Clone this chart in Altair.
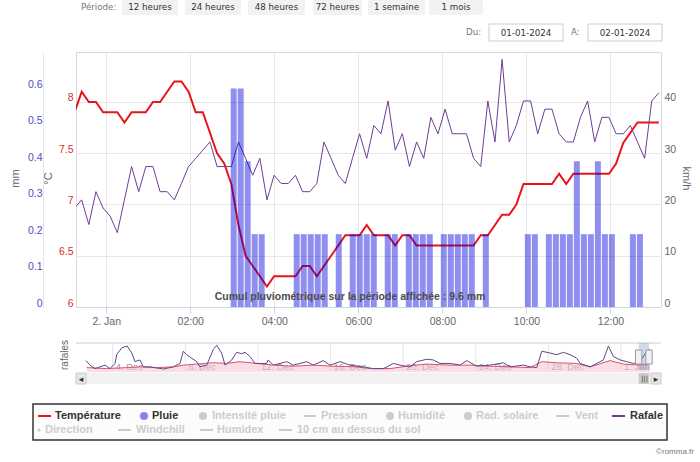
import json
import altair as alt
import pandas as pd

# ---------------- data ----------------
START_MIN = -38          # first 10-minute sample, minutes after 2 Jan 00:00
STEP_MIN = 10

temperature = [
    7.9, 8.1, 8.0, 8.0, 7.9, 7.9, 7.9, 7.8, 7.9, 7.9,
    7.9, 8.0, 8.0, 8.1, 8.2, 8.2, 8.1, 7.9, 7.9, 7.7,
    7.5, 7.4, 7.2, 6.8, 6.5, 6.4, 6.3, 6.2, 6.3, 6.3,
    6.3, 6.3, 6.4, 6.4, 6.3, 6.4, 6.5, 6.6, 6.7, 6.7,
    6.7, 6.8, 6.7, 6.7, 6.7, 6.6, 6.7, 6.7, 6.6, 6.6,
    6.6, 6.6, 6.6, 6.6, 6.6, 6.6, 6.6, 6.7, 6.7, 6.8,
    6.9, 6.9, 7.0, 7.2, 7.2, 7.2, 7.2, 7.2, 7.3, 7.2,
    7.3, 7.3, 7.3, 7.3, 7.3, 7.3, 7.4, 7.6, 7.7, 7.8,
    7.8, 7.8, 7.8,
]
rafale = [
    19.3, 20.9, 16.1, 22.5, 19.3, 17.7, 14.5, 20.9, 27.4, 22.5,
    27.4, 27.4, 22.5, 22.5, 20.9, 24.1, 27.4, 29.0, 30.6, 32.2,
    27.4, 27.4, 27.4, 32.2, 29.0, 25.7, 29.0, 20.9, 25.7, 24.1,
    24.1, 25.7, 22.5, 22.5, 24.1, 32.2, 29.0, 25.7, 24.1, 29.0,
    33.8, 29.0, 35.4, 33.8, 40.2, 30.6, 33.8, 27.4, 32.2, 29.0,
    37.0, 33.8, 38.6, 33.8, 33.8, 33.8, 29.0, 27.4, 40.2, 32.2,
    48.3, 32.2, 35.4, 40.2, 40.2, 33.8, 38.6, 38.6, 33.8, 32.2,
    32.2, 37.0, 40.2, 32.2, 37.0, 37.0, 33.8, 33.8, 35.4, 32.2,
    29.0, 40.2, 41.8,
]
pluie = [
    0, 0, 0, 0, 0, 0, 0, 0, 0, 0,
    0, 0, 0, 0, 0, 0, 0, 0, 0, 0,
    0, 0, 0.6, 0.6, 0.4, 0.2, 0.2, 0, 0, 0,
    0, 0.2, 0.2, 0.2, 0.2, 0.2, 0, 0.2, 0, 0.2,
    0.2, 0.2, 0.2, 0, 0.2, 0.2, 0, 0.2, 0.2, 0.2,
    0.2, 0, 0.2, 0.2, 0.2, 0.2, 0.2, 0, 0.2, 0,
    0, 0, 0, 0, 0.2, 0.2, 0, 0.2, 0.2, 0.2,
    0.2, 0.4, 0.2, 0.2, 0.4, 0.2, 0.2, 0, 0, 0.2,
    0.2, 0, 0,
]
x_tick_minutes = [0, 120, 240, 360, 480, 600, 720]
x_tick_labels = ["2. Jan", "02:00", "04:00", "06:00", "08:00", "10:00", "12:00"]
temp_ticks = [6, 6.5, 7, 7.5, 8]
mm_ticks = [0, 0.1, 0.2, 0.3, 0.4, 0.5, 0.6]
kmh_ticks = [0, 10, 20, 30, 40]
cumul_text = "Cumul pluviométrique sur la période affichée : 9.6 mm"

# navigator (1 month), day = days since 1 Dec 00:00
nav_days = [1.53, 1.75, 2.02, 2.58, 2.85, 3.13, 3.22, 3.5, 3.8, 4.05, 4.23, 4.5, 4.69,
            5.06, 5.79, 6.34, 6.71, 6.89, 7.07, 7.35, 7.63, 7.81, 8.18, 8.54, 8.73,
            9.0, 9.19, 9.56, 9.83, 10.1, 10.29, 10.56, 10.84, 11.48, 11.57, 11.85,
            12.59, 12.95, 13.69, 14.05, 14.6, 14.97, 15.52, 16.07, 16.81, 17.36,
            17.91, 18.46, 18.83, 19.38, 19.75, 20.3, 20.66, 21.03, 21.58, 22.13,
            22.5, 23.05, 23.79, 24.52, 24.89, 25.62, 25.99, 26.36, 26.64, 27.09,
            27.46, 27.83, 28.2, 28.56, 28.75, 29.3, 30.03, 30.31, 30.58, 30.95,
            31.32, 31.69, 32.06, 32.42, 32.6]
nav_rafale = [19.1, 9.9, 2.8, 9.9, 2.8, 13.4, 31.1, 45.2, 48.8, 34.6, 17.0, 20.5, 6.4,
              6.4, 2.0, 6.4, 13.4, 38.2, 31.1, 24.0, 17.0, 6.4, 9.9, 41.7, 50.2,
              34.6, 9.9, 20.5, 36.0, 33.2, 36.0, 27.6, 13.4, 13.4, 20.5, 9.9,
              17.0, 9.9, 17.0, 9.9, 19.1, 9.9, 17.0, 9.9, 6.4, 2.8,
              2.8, 13.4, 9.9, 6.4, 17.0, 21.9, 20.5, 13.4, 13.4, 9.9,
              19.1, 7.8, 9.9, 14.8, 6.4, 9.9, 6.4, 4.9, 38.2, 34.6,
              31.1, 36.0, 31.1, 24.0, 13.4, 6.4, 20.5, 48.8, 27.6, 20.5,
              17.0, 13.4, 17.0, 38.2, 41.7]
nav_temp_days = [1.57, 2.67, 3.77, 4.5, 5.42, 6.34, 6.89, 7.63, 8.54, 9.28, 10.01,
                 10.93, 11.85, 12.95, 14.05, 15.15, 16.44, 17.18, 18.28, 19.2, 20.3,
                 21.58, 22.69, 23.79, 24.89, 25.99, 26.64, 27.46, 28.56, 29.3, 30.4,
                 31.13, 32.06, 32.6]
nav_temp = [4.2, 3.3, 4.2, 4.9, 4.2, 4.9, 6.5, 7.5, 8.7, 8.1, 9.7,
            8.1, 6.5, 5.5, 6.5, 5.5, 4.9, 3.3, 3.3, 5.5, 7.5,
            6.5, 6.5, 5.5, 4.9, 4.2, 9.7, 8.7, 8.1, 4.9, 10.7,
            7.5, 6.5, 8.1]
nav_tick_days = [3, 7, 11, 15, 19, 23, 27, 31]
nav_tick_labels = ["4. Dec", "8. Dec", "12. Dec", "16. Dec", "20. Dec", "24. Dec", "28. Dec", "1. Jan"]

periods = ["12 heures", "24 heures", "48 heures", "72 heures", "1 semaine", "1 mois"]
date_from, date_to = "01-01-2024", "02-01-2024"

# ---------------- layout ----------------
OX, OY = 76, 52
W, H = 585, 255
FONT = "Liberation Sans"
HFONT = "DejaVu Sans"
XDOM = [-36, 785]

df = pd.DataFrame({
    "t": [START_MIN + STEP_MIN * i for i in range(len(temperature))],
    "temp": temperature,
    "rafale": rafale,
    "pluie": pluie,
})
nav_g = pd.DataFrame({"day": nav_days, "v": nav_rafale})
nav_t = pd.DataFrame({"day": nav_temp_days, "T": nav_temp})
nav_ticks = pd.DataFrame({"day": nav_tick_days, "lab": nav_tick_labels})
win = pd.DataFrame({"d0": [32 + XDOM[0] / 1440], "d1": [32 + XDOM[1] / 1440]})
one = pd.DataFrame({"k": [0]})

x_label_expr = json.dumps(x_tick_labels) + "[round(datum.value / 120)]"


def xmain(axis=None):
    return alt.X("t:Q", scale=alt.Scale(domain=XDOM, nice=False, zero=False), axis=axis)


x_axis = alt.Axis(values=x_tick_minutes, labelExpr=x_label_expr, title=None, grid=True,
                  gridColor="#e6e6e6", domainColor="#ccd6eb", tickColor="#ccd6eb",
                  tickSize=6, labelPadding=3, labelFontSize=10.5, labelColor="#666666",
                  labelFont=FONT, labelFlush=False)

temp_line = alt.Chart(df).mark_line(color="#e8141c", strokeWidth=2, clip=True).encode(
    x=xmain(),
    y=alt.Y("temp:Q", scale=alt.Scale(domain=[6, 8.4875], nice=False, zero=False),
            axis=alt.Axis(orient="left", values=temp_ticks, format="~g", grid=True,
                          gridColor="#e6e6e6", domain=False, ticks=False, labelPadding=3,
                          labelOffset=-4, labelColor="#d23232", labelFontSize=10.5,
                          labelFont=FONT, title="°C", titleX=-28, titleY=126,
                          titleAngle=270, titleAlign="center", titleBaseline="middle",
                          titleColor="#666666", titleFontSize=11, titleFontWeight="normal",
                          titleFont=FONT)),
)

gust_line = alt.Chart(df).mark_line(color="#6f3c99", strokeWidth=1, clip=True).encode(
    x=xmain(),
    y=alt.Y("rafale:Q", scale=alt.Scale(domain=[0, 49.75], nice=False),
            axis=alt.Axis(orient="right", values=kmh_ticks, format="d", grid=False,
                          domain=False, ticks=False, labelPadding=3, labelOffset=-4,
                          labelColor="#666666", labelFontSize=10.5, labelFont=FONT,
                          title="km/h", titleX=24, titleY=126, titleAngle=90,
                          titleAlign="center", titleBaseline="middle",
                          titleColor="#666666", titleFontSize=11, titleFontWeight="normal",
                          titleFont=FONT)),
)

bars = alt.Chart(df).transform_filter("datum.pluie > 0").mark_bar(
    size=6, color="#0000dd", opacity=0.44).encode(
    x=xmain(x_axis),
    y=alt.Y("pluie:Q", scale=alt.Scale(domain=[0, 0.7], nice=False),
            axis=alt.Axis(orient="left", offset=33, values=mm_ticks, format="~g", grid=False,
                          domain=True, domainColor="#e6e6e6", ticks=False, labelPadding=1,
                          labelOffset=-4, labelColor="#4d4dc6", labelFontSize=10.5,
                          labelFont=FONT, title="mm", titleX=-28, titleY=126,
                          titleAngle=270, titleAlign="center", titleBaseline="middle",
                          titleColor="#666666", titleFontSize=11, titleFontWeight="normal",
                          titleFont=FONT)),
)


def tx(text, x, y, size=10, color="#333333", weight="normal", align="left", font=FONT, angle=0):
    kw = dict(text=text, fontSize=size, color=color, fontWeight=weight, align=align,
              baseline="middle", font=font)
    if angle:
        kw["angle"] = angle
    return alt.Chart(one).mark_text(**kw).encode(x=alt.value(x - OX), y=alt.value(y - OY))


def rect(x1, y1, x2, y2, fill, stroke=None, sw=1, opacity=1):
    kw = dict(fill=fill, opacity=opacity)
    if stroke:
        kw.update(stroke=stroke, strokeWidth=sw)
    return alt.Chart(one).mark_rect(**kw).encode(
        x=alt.value(x1 - OX), x2=alt.value(x2 - OX), y=alt.value(y1 - OY), y2=alt.value(y2 - OY))


def hline(x1, x2, y, color, sw=1):
    return alt.Chart(one).mark_rule(color=color, strokeWidth=sw).encode(
        x=alt.value(x1 - OX), x2=alt.value(x2 - OX), y=alt.value(y - OY))


def dot(x, y, color, size=64):
    return alt.Chart(one).mark_point(shape="circle", filled=True, color=color, size=size,
                                     opacity=1).encode(x=alt.value(x - OX), y=alt.value(y - OY))


cumul = tx(cumul_text, 350, 297, size=10.5, color="#4d4d4d", weight="bold", align="center")

# ---------------- navigator ----------------
NAV_TOP, NAV_BOT = 343 - OY, 370 - OY
navx_scale = alt.Scale(domain=[1.42, 32.6], range=[8, 574], nice=False, zero=False)
navx = alt.X("day:Q", scale=navx_scale, axis=None)

nav_grid = alt.Chart(nav_ticks).mark_rule(color="#e6e6e6").encode(
    x=navx, y=alt.value(NAV_TOP), y2=alt.value(NAV_BOT))
nav_labels = alt.Chart(nav_ticks).mark_text(align="left", baseline="middle", dx=3, fontSize=9.5,
                                           color="#999999", font=FONT).encode(
    x=navx, y=alt.value(367 - OY), text="lab:N")
nav_t_scale = alt.Scale(domain=[2, 27], range=[NAV_BOT, NAV_TOP], nice=False, zero=False)
nav_area = alt.Chart(nav_t).mark_area(color="#f4c3cf", opacity=0.55).encode(
    x=navx, y=alt.Y("T:Q", scale=nav_t_scale, axis=None), y2=alt.value(NAV_BOT))
nav_tline = alt.Chart(nav_t).mark_line(color="#e0506a", strokeWidth=1).encode(
    x=navx, y=alt.Y("T:Q", scale=nav_t_scale, axis=None))
nav_gline = alt.Chart(nav_g).mark_line(color="#5b4a8c", strokeWidth=1).encode(
    x=navx, y=alt.Y("v:Q", scale=alt.Scale(domain=[0, 55], range=[NAV_BOT, NAV_TOP],
                                           nice=False), axis=None))
nav_mask = alt.Chart(win).mark_rect(fill="#6685c2", opacity=0.3).encode(
    x=alt.X("d0:Q", scale=navx_scale, axis=None), x2="d1:Q",
    y=alt.value(NAV_TOP), y2=alt.value(NAV_BOT))
handle_shape = "M-0.45,-1H0.45V1H-0.45Z"
nav_h0 = alt.Chart(win).mark_point(shape=handle_shape, size=196, filled=True, fill="#f2f2f2",
                                   stroke="#999999", strokeWidth=1, opacity=1).encode(
    x=alt.X("d0:Q", scale=navx_scale, axis=None), y=alt.value(357 - OY))
nav_h1 = alt.Chart(win).mark_point(shape=handle_shape, size=196, filled=True, fill="#f2f2f2",
                                   stroke="#999999", strokeWidth=1, opacity=1).encode(
    x=alt.X("d1:Q", scale=navx_scale, axis=None), y=alt.value(357 - OY))
thumb = alt.Chart(win).mark_rect(fill="#cccccc").encode(
    x=alt.X("d0:Q", scale=navx_scale, axis=None), x2="d1:Q",
    y=alt.value(373 - OY), y2=alt.value(384 - OY))

navigator = [
    hline(76, 661, 343, "#cccccc"),
    nav_grid, nav_labels, nav_area, nav_tline, nav_gline, nav_mask,
    rect(76, 373, 661, 384, "#f2f2f2"),
    rect(76, 373, 86, 384, "#e6e6e6", stroke="#cccccc"),
    rect(651, 373, 661, 384, "#e6e6e6", stroke="#cccccc"),
    tx("◂", 81, 378.5, size=9, color="#333333", align="center", font=HFONT),
    tx("▸", 656, 378.5, size=9, color="#333333", align="center", font=HFONT),
    thumb,
    tx("|||", 644.5, 378.5, size=7, color="#333333", align="center", font=HFONT),
    nav_h0, nav_h1,
    tx("rafales", 65, 355, size=10, color="#666666", align="center", angle=270),
]

# ---------------- header ----------------
btn_x = [(122, 178), (185, 241), (248, 305), (313, 362), (368, 425), (429, 483)]
header = [tx("Période:", 81, 7, size=8.7, color="#777777", font=HFONT)]
for (a, b), lab in zip(btn_x, periods):
    header.append(rect(a, 0, b, 15, "#f2f2f2"))
    header.append(tx(lab, (a + b) / 2, 7, size=8.7, color="#333333", align="center", font=HFONT))
header += [
    tx("Du:", 466, 32, size=8.7, color="#777777", font=HFONT),
    rect(489, 24, 563, 41, "#ffffff", stroke="#cccccc"),
    tx(date_from, 526, 32.5, size=8.7, color="#333333", align="center", font=HFONT),
    tx("A:", 571, 32, size=8.7, color="#777777", font=HFONT),
    rect(588, 24, 662, 41, "#ffffff", stroke="#cccccc"),
    tx(date_to, 625, 32.5, size=8.7, color="#333333", align="center", font=HFONT),
]

# ---------------- legend ----------------
ON, OFF = "#333333", "#cccccc"
legend = [rect(33, 404, 667, 440, "#fcfcfc", stroke="#333333", sw=1.5)]
line_items = [  # (label, x_sym0, x_sym1, x_text, y, symbol color, text color)
    ("Température", 38, 51, 55, 416, "#e8141c", ON),
    ("Pression", 304, 316, 321, 416, OFF, OFF),
    ("Vent", 556, 569, 575, 416, OFF, OFF),
    ("Rafale", 612, 625, 630, 416, "#6f3c99", ON),
    ("Windchill", 118, 131, 136, 430, OFF, OFF),
    ("Humidex", 200, 213, 217, 430, OFF, OFF),
    ("10 cm au dessus du sol", 279, 292, 297, 430, OFF, OFF),
]
for lab, a, b, xt, y, sc, tc in line_items:
    legend.append(hline(a, b, y, sc, sw=2))
    legend.append(tx(lab, xt, y, size=11, color=tc, weight="bold"))
dot_items = [
    ("Pluie", 144, 152, 416, "#8585ee", ON, 64),
    ("Intensité pluie", 203, 212, 416, OFF, OFF, 64),
    ("Humidité", 390, 398, 416, OFF, OFF, 64),
    ("Rad. solaire", 468, 476, 416, OFF, OFF, 64),
    ("Direction", 39, 45, 430, OFF, OFF, 10),
]
for lab, xs, xt, y, sc, tc, sz in dot_items:
    legend.append(dot(xs, y, sc, sz))
    legend.append(tx(lab, xt, y, size=11, color=tc, weight="bold"))
legend.append(tx("©romma.fr", 694, 452, size=8, color="#777777", align="right"))

chart = alt.layer(
    temp_line, gust_line, bars, cumul, *navigator, *header, *legend
).resolve_scale(x="independent", y="independent").properties(
    width=W, height=H,
    autosize=alt.AutoSizeParams(type="none"),
    padding={"left": OX, "top": OY, "right": 700 - OX - W, "bottom": 462 - OY - H},
    background="white",
).configure_view(stroke="#d9d9d9", strokeWidth=1)

chart.save("out.html", embed_options={"renderer": "svg", "actions": False})
